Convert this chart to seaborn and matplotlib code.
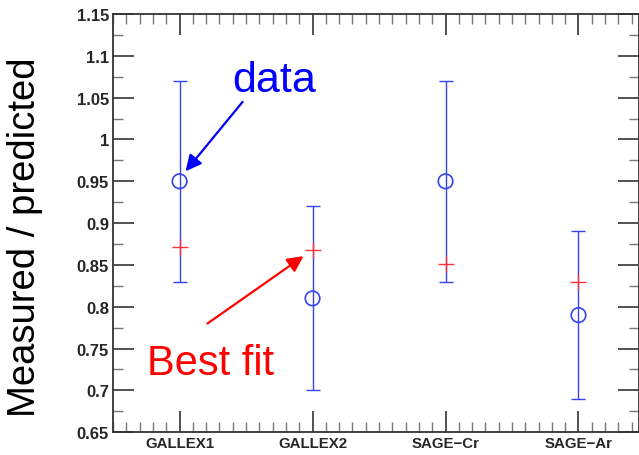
import matplotlib
matplotlib.use("Agg")
import matplotlib.pyplot as plt
from matplotlib.ticker import MultipleLocator
import numpy as np
import pandas as pd
import seaborn as sns

experiments = ["GALLEX1", "GALLEX2", "SAGE\u2212Cr", "SAGE\u2212Ar"]
measured = [0.95, 0.81, 0.95, 0.79]
err_low = [0.12, 0.11, 0.12, 0.10]
err_high = [0.12, 0.11, 0.12, 0.10]
best_fit = [0.872, 0.868, 0.851, 0.830]

sns.set_style("ticks")
plt.rcParams["font.family"] = ["Liberation Sans", "DejaVu Sans"]

df = pd.DataFrame({"exp": experiments, "measured": measured, "fit": best_fit})
pos = np.arange(len(experiments))

fig = plt.figure(figsize=(6.39, 4.56), dpi=100)
ax = fig.add_axes([0.177, 0.050, 0.823, 0.917])

ax.errorbar(pos, measured, yerr=[err_low, err_high], fmt="none",
            ecolor="#3344ee", elinewidth=1.0, capsize=5, capthick=1.0, zorder=2)
sns.scatterplot(data=df, x="exp", y="measured", ax=ax, marker="o", s=110,
                facecolors="none", edgecolor="#3344ee", linewidth=1.2, zorder=3)
sns.scatterplot(data=df, x="exp", y="fit", ax=ax, marker="+", s=130,
                color="#ff3333", linewidth=1.0, zorder=4)

ax.set_xlim(-0.5, 3.455)
ax.set_ylim(0.65, 1.15)
ax.set_xticks(pos)
ax.set_xticklabels(experiments, fontweight="bold", fontsize=10.8)
ax.xaxis.set_minor_locator(MultipleLocator(0.1))
ax.yaxis.set_major_locator(MultipleLocator(0.05))
ax.yaxis.set_minor_locator(MultipleLocator(0.025))
ax.set_yticklabels([f"{v:g}" for v in ax.get_yticks()], fontweight="bold", fontsize=12)
ax.tick_params(which="major", direction="in", length=15, width=1.2, color="#333333",
               top=True, right=True, pad=3)
ax.tick_params(which="minor", direction="in", length=7, width=1.0, color="#777777",
               top=True, right=True)
ax.tick_params(axis="x", which="major", pad=3)
for sp in ax.spines.values():
    sp.set_color("#333333")
    sp.set_linewidth(1.3)

ax.set_xlabel("")
ax.set_ylabel("Measured / predicted", fontsize=27.5, color="black")
ax.yaxis.set_label_coords(-0.133, 0.469)

# callout labels with arrows
ax.text(0.714, 1.058, "data", color="blue", fontsize=31, ha="center", va="baseline")
ax.annotate("", xy=(0.045, 0.962), xytext=(0.474, 1.045),
            arrowprops=dict(arrowstyle="-|>", color="blue", lw=1.6,
                            mutation_scale=24, shrinkA=0, shrinkB=0))
ax.text(0.229, 0.719, "Best fit", color="red", fontsize=30, ha="center", va="baseline")
ax.annotate("", xy=(0.932, 0.8605), xytext=(0.21, 0.780),
            arrowprops=dict(arrowstyle="-|>", color="red", lw=1.6,
                            mutation_scale=24, shrinkA=0, shrinkB=0))

fig.savefig("out.png", dpi=100)
